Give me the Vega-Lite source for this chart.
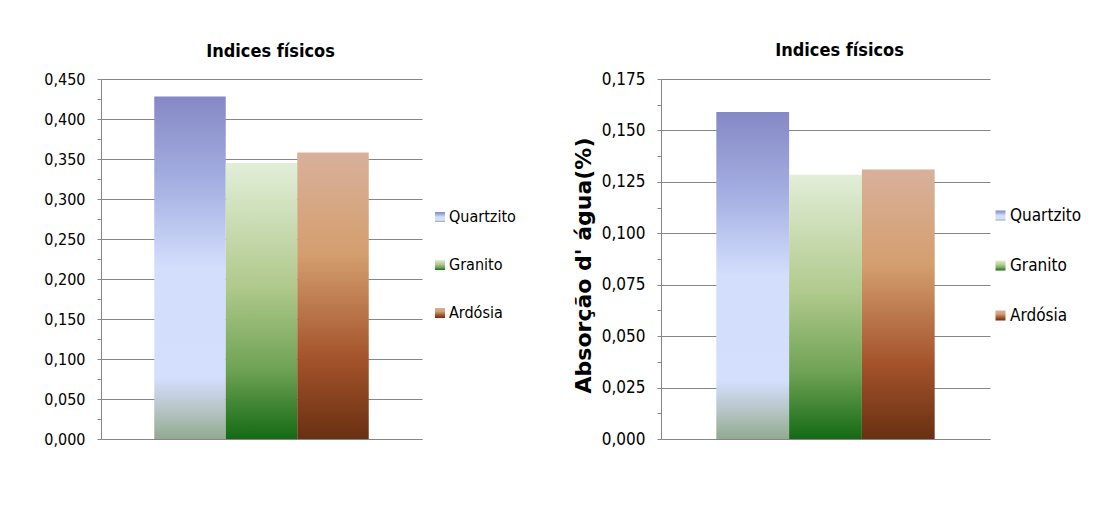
{
  "$schema": "https://vega.github.io/schema/vega-lite/v6.json",
  "background": "white",
  "padding": {"left": 43, "top": 42, "right": 5, "bottom": 5},
  "datasets": {
    "indices": [
      {"material": "Quartzito", "valor": 0.428},
      {"material": "Granito", "valor": 0.345},
      {"material": "Ardósia", "valor": 0.358}
    ],
    "absorcao": [
      {"material": "Quartzito", "valor": 0.159},
      {"material": "Granito", "valor": 0.1285},
      {"material": "Ardósia", "valor": 0.131}
    ]
  },
  "spacing": 239,
  "bounds": "flush",
  "hconcat": [
    {
      "width": 321,
      "height": 360,
      "data": {"name": "indices"},
      "title": {"text": "Indices físicos", "anchor": "middle", "frame": "group", "dx": 9},
      "mark": {"type": "bar", "stroke": null},
      "encoding": {
        "x": {
          "field": "material", "type": "nominal", "sort": null,
          "scale": {"paddingInner": 0, "paddingOuter": 0.745},
          "axis": {"labels": false, "ticks": false, "title": null, "domain": true}
        },
        "y": {
          "field": "valor", "type": "quantitative",
          "scale": {"domain": [0, 0.45], "nice": false},
          "axis": {
            "title": null,
            "labelFontSize": 16,
            "values": [0, 0.025, 0.05, 0.075, 0.1, 0.125, 0.15, 0.175, 0.2, 0.225, 0.25, 0.275, 0.3, 0.325, 0.35, 0.375, 0.4, 0.425, 0.45],
            "labelExpr": "round(datum.value*1000) % 50 == 0 ? replace(format(datum.value, '.3f'), '.', ',') : ''",
            "gridOpacity": {"condition": {"test": "round(datum.value*1000) % 50 == 0", "value": 1}, "value": 0}
          }
        },
        "color": {
          "field": "material", "type": "nominal", "sort": null,
          "scale": {
            "domain": ["Quartzito", "Granito", "Ardósia"],
            "range": [
              {"expr": "{gradient: 'linear', x1: 0, y1: 0, x2: 0, y2: 1, stops: [{offset: 0, color: '#8588c5'}, {offset: 0.25, color: '#a5afe1'}, {offset: 0.5, color: '#d3defd'}, {offset: 0.82, color: '#d4dffe'}, {offset: 0.91, color: '#b8c6c9'}, {offset: 1, color: '#91aa8f'}]}"},
              {"expr": "{gradient: 'linear', x1: 0, y1: 0, x2: 0, y2: 1, stops: [{offset: 0, color: '#e2eed8'}, {offset: 0.45, color: '#b0c98c'}, {offset: 0.75, color: '#6ea254'}, {offset: 1, color: '#146a14'}]}"},
              {"expr": "{gradient: 'linear', x1: 0, y1: 0, x2: 0, y2: 1, stops: [{offset: 0, color: '#d8b09b'}, {offset: 0.35, color: '#d49f6f'}, {offset: 0.72, color: '#a4532b'}, {offset: 1, color: '#693012'}]}"}
            ]
          },
          "legend": {"orient": "none", "legendX": 331, "legendY": 130, "labelFontSize": 16}
        }
      }
    },
    {
      "width": 329,
      "height": 360,
      "data": {"name": "absorcao"},
      "title": {"text": "Indices físicos", "anchor": "middle", "frame": "group", "dx": 14},
      "mark": {"type": "bar", "stroke": null},
      "encoding": {
        "x": {
          "field": "material", "type": "nominal", "sort": null,
          "scale": {"paddingInner": 0, "paddingOuter": 0.76},
          "axis": {"labels": false, "ticks": false, "title": null, "domain": true}
        },
        "y": {
          "field": "valor", "type": "quantitative",
          "scale": {"domain": [0, 0.175], "nice": false},
          "axis": {
            "title": "Absorção d' água(%)",
            "titleFont": "DejaVu Sans",
            "titleFontSize": 22,
            "titleFontWeight": "bold",
            "titleColor": "black",
            "titlePadding": 6,
            "titleY": 186,
            "values": [0, 0.0125, 0.025, 0.0375, 0.05, 0.0625, 0.075, 0.0875, 0.1, 0.1125, 0.125, 0.1375, 0.15, 0.1625, 0.175],
            "labelExpr": "round(datum.value*10000) % 250 == 0 ? replace(format(datum.value, '.3f'), '.', ',') : ''",
            "gridOpacity": {"condition": {"test": "round(datum.value*10000) % 250 == 0", "value": 1}, "value": 0}
          }
        },
        "color": {
          "field": "material", "type": "nominal", "sort": null,
          "scale": {
            "domain": ["Quartzito", "Granito", "Ardósia"],
            "range": [
              {"expr": "{gradient: 'linear', x1: 0, y1: 0, x2: 0, y2: 1, stops: [{offset: 0, color: '#8588c5'}, {offset: 0.25, color: '#a5afe1'}, {offset: 0.5, color: '#d3defd'}, {offset: 0.82, color: '#d4dffe'}, {offset: 0.91, color: '#b8c6c9'}, {offset: 1, color: '#91aa8f'}]}"},
              {"expr": "{gradient: 'linear', x1: 0, y1: 0, x2: 0, y2: 1, stops: [{offset: 0, color: '#e2eed8'}, {offset: 0.45, color: '#b0c98c'}, {offset: 0.75, color: '#6ea254'}, {offset: 1, color: '#146a14'}]}"},
              {"expr": "{gradient: 'linear', x1: 0, y1: 0, x2: 0, y2: 1, stops: [{offset: 0, color: '#d8b09b'}, {offset: 0.35, color: '#d49f6f'}, {offset: 0.72, color: '#a4532b'}, {offset: 1, color: '#693012'}]}"}
            ]
          },
          "legend": {"orient": "none", "legendX": 331, "legendY": 128, "labelFontSize": 17}
        }
      }
    }
  ],
  "resolve": {
    "scale": {"color": "independent", "x": "independent", "y": "independent"},
    "legend": {"color": "independent"}
  },
  "config": {
    "view": {"stroke": null},
    "font": "Liberation Sans Narrow, DejaVu Sans Condensed, sans-serif",
    "title": {
      "font": "Liberation Sans Narrow, DejaVu Sans Condensed, sans-serif",
      "fontSize": 18,
      "fontWeight": "bold",
      "color": "black",
      "offset": 10
    },
    "axis": {
      "labelFont": "Liberation Sans Narrow, DejaVu Sans Condensed, sans-serif",
      "labelFontSize": 17,
      "labelColor": "black",
      "labelPadding": 12,
      "labelOverlap": false,
      "domainColor": "#868686",
      "domainWidth": 1,
      "gridColor": "#868686",
      "gridWidth": 1.2,
      "tickColor": "#868686",
      "tickSize": 4,
      "tickWidth": 1
    },
    "legend": {
      "title": null,
      "symbolType": "square",
      "symbolSize": 100,
      "symbolStrokeWidth": 0,
      "labelFont": "Liberation Sans Narrow, DejaVu Sans Condensed, sans-serif",
      "labelColor": "black",
      "labelOffset": 1,
      "rowPadding": 32,
      "padding": 0
    }
  }
}
